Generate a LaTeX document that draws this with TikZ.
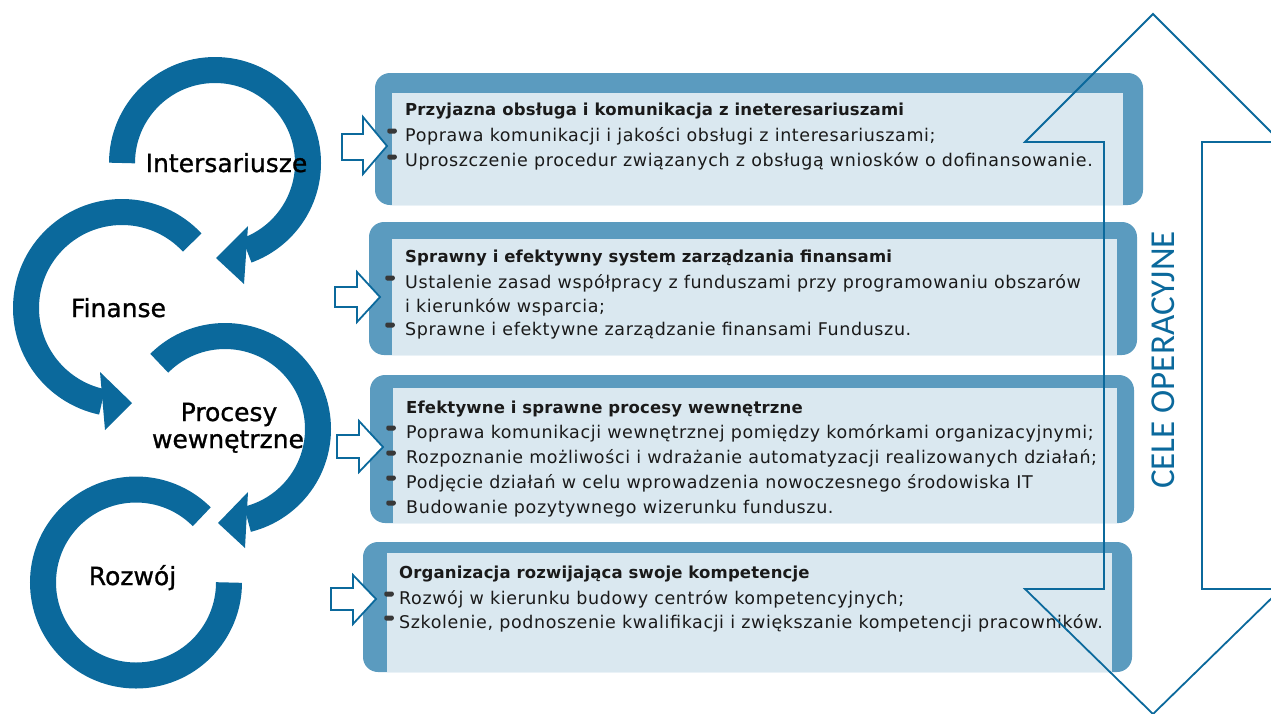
\documentclass[tikz,border=0pt]{standalone}
\usepackage{fontspec}
\setmainfont{DejaVu Sans}
\newfontfamily\celefont{Carlito}
\newfontfamily\bodyfont[LetterSpace=3.5]{DejaVu Sans}
\newfontfamily\titlefont[LetterSpace=1]{DejaVu Sans Bold}
\newfontfamily\labelfont[FakeBold=1]{DejaVu Sans}
\usetikzlibrary{calc}
\definecolor{ringblue}{HTML}{0B699C}
\definecolor{boxblue}{HTML}{5B9BBF}
\definecolor{boxlight}{HTML}{DAE8F0}
\definecolor{txt}{HTML}{1A1A1A}
\tikzset{
 ring/.style={draw=ringblue, line width=26pt},
 head/.style={fill=ringblue},
 outerbox/.style={fill=boxblue, rounded corners=15pt},
 innerbox/.style={fill=boxlight},
 blockarrow/.style={draw=ringblue, line width=1.8pt, fill=white, line join=miter},
 bigarrow/.style={draw=ringblue, line width=1.8pt},
 lbl/.style={anchor=base, inner sep=0pt, font=\labelfont\fontsize{25}{28}\selectfont, text=black},
 ttl/.style={anchor=base west, inner sep=0pt, font=\titlefont\fontsize{16.5}{19}\selectfont, text=txt},
 itm/.style={anchor=base west, inner sep=0pt, font=\bodyfont\fontsize{17.5}{20}\selectfont, text=txt},
 bullet/.style={fill=black!78, rounded corners=2pt, minimum width=9.5pt, minimum height=5pt, inner sep=0pt}
}
\begin{document}
\begin{tikzpicture}[x=1pt,y=1pt]
\useasboundingbox (0,0) rectangle (1271,-713);
\clip (0,0) rectangle (1271,-713);
% rings
\draw[ring] (215,-163) ++(180:93) arc[start angle=180, end angle=-70, radius=93];
\fill[head] (248,-226) -- (244,-284) -- (216,-258) -- cycle;
\draw[ring] (122,-308) ++(43:96) arc[start angle=43, end angle=258, radius=96];
\fill[head] (100,-372) -- (105,-430) -- (132,-403) -- cycle;
\draw[ring] (225,-429) ++(135:93) arc[start angle=135, end angle=-76, radius=93];
\fill[head] (248,-492) -- (245,-548) -- (218,-523) -- cycle;
\draw[ring] (136,-582.5) ++(45:93) arc[start angle=45, end angle=360, radius=93];
% ring labels
\node[lbl] (intr) at (226.5,-172) {Intersariusze};
\node[lbl] (fin) at (118.5,-317) {Finanse};
\node[lbl] (procA) at (229,-421) {Procesy};
\node[lbl] (procB) at (228,-448) {wewnętrzne};
\node[lbl] (roz) at (132.5,-585) {Rozwój};
% boxes
\fill[outerbox] (375,-73) rectangle (1143,-205);
\fill[innerbox] (392,-93) rectangle (1123,-205);
\fill[outerbox] (369,-222) rectangle (1137,-355);
\fill[innerbox] (392,-239) rectangle (1117,-355);
\fill[outerbox] (370,-375) rectangle (1134,-523);
\fill[innerbox] (393,-388) rectangle (1117,-523);
\fill[outerbox] (363,-542) rectangle (1132,-672);
\fill[innerbox] (387,-553) rectangle (1112,-672);
% box 1 text
\node[ttl] (t1) at (405,-115) {Przyjazna obsługa i komunikacja z ineteresariuszami};
\node[itm] (t1a) at (405,-141) {Poprawa komunikacji i jakości obsługi z interesariuszami;};
\node[itm] (t1b) at (405,-166) {Uproszczenie procedur związanych z obsługą wniosków o dofinansowanie.};
\node[bullet] (b1a) at (392,-131) {};
\node[bullet] (b1b) at (392,-157) {};
% box 2 text
\node[ttl] (t2) at (405,-262) {Sprawny i efektywny system zarządzania finansami};
\node[itm] (t2a) at (405,-288) {Ustalenie zasad współpracy z funduszami przy programowaniu obszarów};
\node[itm] (t2b) at (405,-312) {i kierunków wsparcia;};
\node[itm] (t2c) at (405,-335) {Sprawne i efektywne zarządzanie finansami Funduszu.};
\node[bullet] (b2a) at (390,-278) {};
\node[bullet] (b2c) at (390,-325) {};
% box 3 text
\node[ttl] (t3) at (406,-413) {Efektywne i sprawne procesy wewnętrzne};
\node[itm] (t3a) at (406,-438) {Poprawa komunikacji wewnętrznej pomiędzy komórkami organizacyjnymi;};
\node[itm] (t3b) at (406,-463) {Rozpoznanie możliwości i wdrażanie automatyzacji realizowanych działań;};
\node[itm] (t3c) at (406,-488) {Podjęcie działań w celu wprowadzenia nowoczesnego środowiska IT};
\node[itm] (t3d) at (406,-513) {Budowanie pozytywnego wizerunku funduszu.};
\node[bullet] (b3a) at (391,-428) {};
\node[bullet] (b3b) at (391,-453) {};
\node[bullet] (b3c) at (391,-478) {};
\node[bullet] (b3d) at (391,-503) {};
% box 4 text
\node[ttl] (t4) at (399,-578) {Organizacja rozwijająca swoje kompetencje};
\node[itm] (t4a) at (399,-604) {Rozwój w kierunku budowy centrów kompetencyjnych;};
\node[itm] (t4b) at (399,-628) {Szkolenie, podnoszenie kwalifikacji i zwiększanie kompetencji pracowników.};
\node[bullet] (b4a) at (389,-594) {};
\node[bullet] (b4b) at (389,-618) {};
% block arrows
\draw[blockarrow] (342,-134) -- (363,-134) -- (363,-117) -- (387,-146) -- (363,-174) -- (363,-160) -- (342,-160) -- cycle;
\draw[blockarrow] (335,-287) -- (357,-287) -- (357,-272) -- (380,-297) -- (357,-322) -- (357,-307) -- (335,-307) -- cycle;
\draw[blockarrow] (337,-435) -- (359,-435) -- (359,-421) -- (383,-447) -- (359,-472) -- (359,-458) -- (337,-458) -- cycle;
\draw[blockarrow] (331,-588) -- (353,-588) -- (353,-575) -- (376,-599) -- (353,-624) -- (353,-610) -- (331,-610) -- cycle;
% big double arrow
\draw[bigarrow] (1153,-14) -- (1281,-142) -- (1202,-142) -- (1202,-589) -- (1281,-589) -- (1153,-714) -- (1025,-589) -- (1104,-589) -- (1104,-142) -- (1025,-142) -- cycle;
\node[rotate=90, text=ringblue, inner sep=0pt, font=\celefont\fontsize{35}{40}\selectfont] (cele) at (1163.5,-360) {CELE OPERACYJNE};
\end{tikzpicture}
\end{document}
